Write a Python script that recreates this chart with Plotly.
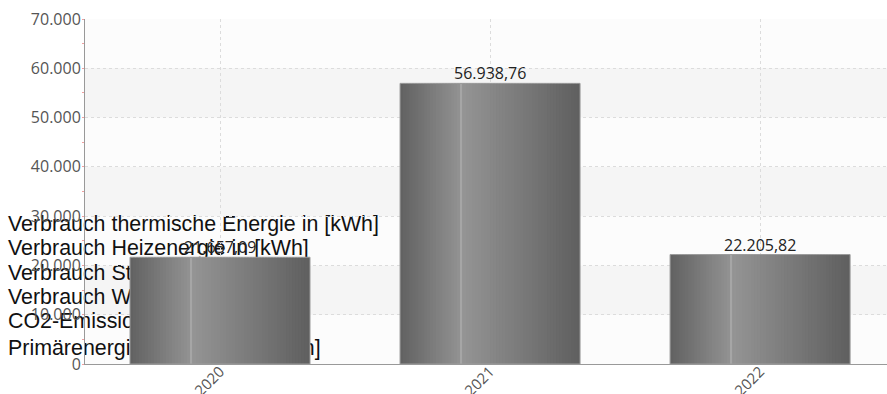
import plotly.graph_objects as go

# ---- data ----
years = ["2020", "2021", "2022"]
values = [21657.09, 56938.76, 22205.82]
legend_labels = [
    "Verbrauch thermische Energie in [kWh]",
    "Verbrauch Heizenergie in [kWh]",
    "Verbrauch Strom in [kWh]",
    "Verbrauch Wasser in [m³]",
    "CO2-Emissionen in [t]",
    "Primärenergieverbrauch in [kWh]",
]
y_ticks = [0, 10000, 20000, 30000, 40000, 50000, 60000, 70000]

# ---- layout / style (pixel positions of the legend-like text) ----
W, H = 887, 394
legend_px_x = 8
legend_px_y = [225.5, 250, 274.3, 298.3, 322.3, 350]
plot_left, plot_top, plot_bottom = 85, 19, 364
bar_w = 2 / 3
n_slices = 60
grad_stops = [(0.0, 0x61), (0.333, 0x92), (0.34, 0x95), (1.0, 0x5f)]


def grey_at(f):
    for (f0, c0), (f1, c1) in zip(grad_stops[:-1], grad_stops[1:]):
        if f0 <= f <= f1:
            t = (f - f0) / (f1 - f0) if f1 > f0 else 0
            g = round(c0 + (c1 - c0) * t)
            return f"rgb({g},{g},{g})"
    g = grad_stops[-1][1]
    return f"rgb({g},{g},{g})"


def de_fmt(v):
    return f"{v:,.2f}".replace(",", "X").replace(".", ",").replace("X", ".")


xpos = list(range(len(years)))
fig = go.Figure()

# legend-like text on a full-page pixel layer drawn underneath the bars
fig.add_trace(go.Scatter(
    x=[legend_px_x] * len(legend_labels), y=legend_px_y, text=legend_labels,
    mode="text", textposition="middle right",
    textfont=dict(family="Liberation Sans, Arial", size=21.4, color="#111"),
    hoverinfo="skip", showlegend=False, xaxis="x", yaxis="y",
))

# gradient bars built from slices
sw = bar_w / n_slices
for i in range(n_slices):
    f = (i + 0.5) / n_slices
    fig.add_trace(go.Bar(
        x=xpos, y=values, width=sw * (1.7 if i < n_slices - 1 else 1.0),
        offset=-bar_w / 2 + i * sw, marker=dict(color=grey_at(f), line=dict(width=0)),
        hoverinfo="skip", showlegend=False, xaxis="x2", yaxis="y2",
    ))
# highlight line
fig.add_trace(go.Bar(
    x=xpos, y=values, width=1 / 270, offset=-bar_w / 2 + bar_w / 3,
    marker=dict(color="#a6a6a6", line=dict(width=0)),
    hoverinfo="skip", showlegend=False, xaxis="x2", yaxis="y2",
))
# outline
fig.add_trace(go.Bar(
    x=xpos, y=values, width=bar_w, offset=-bar_w / 2,
    marker=dict(color="rgba(0,0,0,0)", line=dict(width=1, color="#9c9c9c")),
    hoverinfo="skip", showlegend=False, xaxis="x2", yaxis="y2",
))

# value labels
annotations = [
    dict(x=xv, y=v, xref="x2", yref="y2", text=de_fmt(v), showarrow=False,
         yanchor="bottom", xanchor="center", yshift=-3,
         font=dict(family="Open Sans", size=16, color="#222"))
    for xv, v in zip(xpos, values)
]

x0p = plot_left / W
# plot-area background and alternating bands (beneath everything)
shapes = [dict(type="rect", xref="paper", yref="y2", x0=x0p, x1=1,
               y0=y_ticks[0], y1=y_ticks[-1], fillcolor="#fcfcfc",
               line=dict(width=0), layer="below")]
for k in range(1, 7, 2):
    shapes.append(dict(type="rect", xref="paper", yref="y2", x0=x0p, x1=1,
                       y0=y_ticks[k], y1=y_ticks[k + 1], fillcolor="#f5f5f5",
                       line=dict(width=0), layer="below"))

fig.update_layout(
    width=W, height=H,
    margin=dict(l=0, r=0, t=0, b=0),
    paper_bgcolor="white", plot_bgcolor="rgba(0,0,0,0)",
    separators=",.",
    barmode="overlay",
    showlegend=False,
    shapes=shapes,
    annotations=annotations,
    xaxis=dict(domain=[0, 1], range=[0, W], visible=False, automargin=False, fixedrange=True),
    yaxis=dict(domain=[0, 1], range=[H, 0], visible=False, automargin=False, fixedrange=True),
    xaxis2=dict(
        domain=[x0p, 1], anchor="y2", automargin=False,
        type="linear", range=[-0.5, 2.47], tickvals=xpos, ticktext=years,
        tickangle=-45, showgrid=True, gridcolor="#dcdcdc", griddash="dot",
        showline=True, linecolor="#999", linewidth=1, zeroline=False, ticks="",
        ticklabelstandoff=-8,
        tickfont=dict(family="Open Sans", size=15, color="#555"),
    ),
    yaxis2=dict(
        domain=[(H - plot_bottom) / H, (H - plot_top) / H], anchor="x2", automargin=False,
        range=[0, 70000], tickvals=y_ticks, tickformat=",d",
        showgrid=True, gridcolor="#dcdcdc", griddash="dot",
        showline=True, linecolor="#999", linewidth=1, zeroline=False, ticks="",
        tickfont=dict(family="Open Sans", size=16, color="#555"),
        minor=dict(ticks="outside", ticklen=2, tickcolor="#f0a0a0", dtick=5000, showgrid=False),
    ),
)

fig.write_html(
    "out.html",
    config={"displayModeBar": False},
    post_script="document.documentElement.style.overflow='hidden';"
                "document.body.style.margin='0';document.body.style.overflow='hidden';",
)
